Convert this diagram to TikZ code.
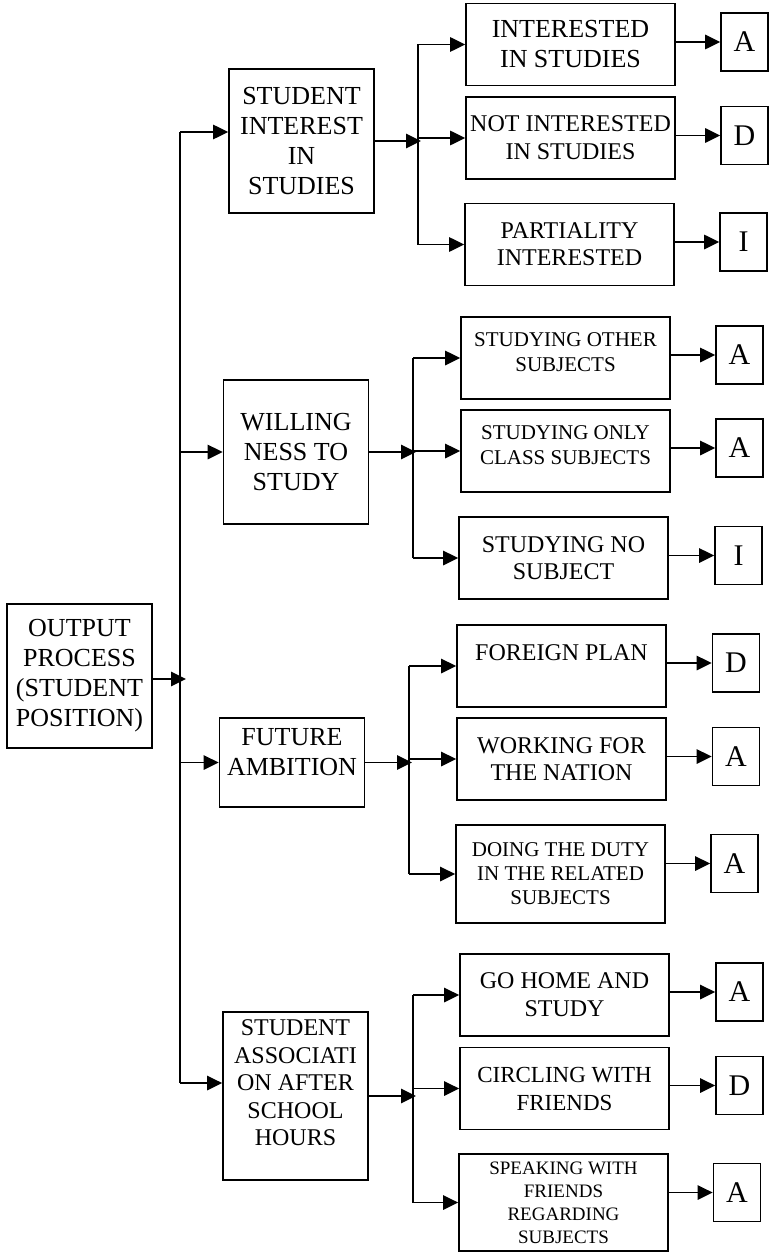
\documentclass[tikz,border=0pt]{standalone}
\usepackage{fontspec}
\setmainfont{Liberation Serif}
\usetikzlibrary{arrows.meta}

\begin{document}
\begin{tikzpicture}[x=0.5pt,y=-0.5pt,
   every node/.style={draw,line width=0.9pt,inner sep=0pt,align=center},
   head/.style={minimum width=72.5pt,minimum height=72pt,font=\fontsize{13}{15}\selectfont},
   item/.style={minimum width=104.5pt,minimum height=41pt,font=\fontsize{12}{13.5}\selectfont},
   grade/.style={minimum width=23.5pt,minimum height=29pt,font=\fontsize{15}{18}\selectfont},
   link/.style={line width=0.9pt,-{Triangle[length=7.5pt,width=7.2pt]}}]

\useasboundingbox (0,0) rectangle (768,1252);

\node[head] (out) at (79.5,676) {OUTPUT\\PROCESS\\(STUDENT\\POSITION)};

\node[head] (interest) at (301.5,141) {STUDENT\\INTEREST\\IN\\STUDIES};
\node[head] (willing) at (296,452) {WILLING\\NESS TO\\STUDY};
\node[head,minimum height=44.5pt] (ambition) at (292,762.5) {FUTURE\\AMBITION\\[-4pt]\mbox{}};
\node[head,minimum height=84pt,font=\fontsize{12}{13.75}\selectfont] (assoc) at (295.5,1096)
   {STUDENT\\ASSOCIATI\\ON AFTER\\SCHOOL\\HOURS\\[-0.75pt]\mbox{}};

\node[item,font=\fontsize{13}{15}\selectfont] (c11) at (570.5,44.5) {INTERESTED\\IN STUDIES};
\node[item,font=\fontsize{12}{14}\selectfont] (c12) at (570.5,138) {NOT INTERESTED\\IN STUDIES};
\node[item] (c13) at (569.5,244.5) {PARTIALITY\\INTERESTED};

\node[item,font=\fontsize{10.5}{12.5}\selectfont] (c21) at (565.5,358) {STUDYING OTHER\\SUBJECTS\\[-6.5pt]\mbox{}};
\node[item,font=\fontsize{10.5}{12.5}\selectfont] (c22) at (565.5,451) {STUDYING ONLY\\CLASS SUBJECTS\\[-6.5pt]\mbox{}};
\node[item] (c23) at (563.5,558) {STUDYING NO\\SUBJECT};

\node[item] (c31) at (561.5,666) {FOREIGN PLAN\\\mbox{}};
\node[item] (c32) at (561.5,759) {WORKING FOR\\THE NATION};
\node[item,minimum height=49pt,font=\fontsize{10.5}{12}\selectfont] (c33) at (560.5,874)
   {DOING THE DUTY\\IN THE RELATED\\SUBJECTS};

\node[item,font=\fontsize{12}{14}\selectfont] (c41) at (564.5,995) {GO HOME AND\\STUDY};
\node[item,font=\fontsize{11.5}{14}\selectfont] (c42) at (564.5,1088.5) {CIRCLING WITH\\FRIENDS};
\node[item,minimum height=48.5pt,font=\fontsize{9.5}{11.5}\selectfont] (c43) at (563.5,1202.5)
   {SPEAKING WITH\\FRIENDS\\REGARDING\\SUBJECTS};

\node[grade] (g11) at (744.5,42) {A};
\node[grade] (g12) at (744.5,135.5) {D};
\node[grade] (g13) at (743.5,242) {I};
\node[grade] (g21) at (739.5,355) {A};
\node[grade] (g22) at (739.5,448) {A};
\node[grade] (g23) at (738.5,555.5) {I};
\node[grade] (g31) at (736,663) {D};
\node[grade] (g32) at (736,756.5) {A};
\node[grade] (g33) at (734.5,863.5) {A};
\node[grade] (g41) at (739.5,992) {A};
\node[grade] (g42) at (739.5,1085.5) {D};
\node[grade] (g43) at (737,1192.5) {A};

\coordinate (top) at (180,132);
\coordinate (bot) at (180,1083);
\coordinate (hub) at (186,679);
\draw[line width=0.9pt] (top) -- (bot);
\draw[link] (out.east |- hub) -- (hub);
\draw[link] (top) -- (top -| interest.west);
\draw[link] (willing.west -| top) -- (willing.west);
\draw[link] (ambition.west -| top) -- (ambition.west);
\draw[link] (bot) -- (bot -| assoc.west);

\foreach \g/\h/\x in {1/interest/418,2/willing/413,3/ambition/409,4/assoc/413}{
  \coordinate (f\g) at (\x,0);
  \draw[link,shorten >=-1.5pt] (\h.east) -- (\h.east -| f\g);
  \draw[line width=0.9pt] (f\g |- c\g1) -- (f\g |- c\g3);
  \foreach \i in {1,2,3}{
    \draw[link] (f\g |- c\g\i) -- (c\g\i.west);
    \draw[link] (g\g\i.west -| c\g\i.east) -- (g\g\i.west);
  }
}

\end{tikzpicture}
\end{document}
